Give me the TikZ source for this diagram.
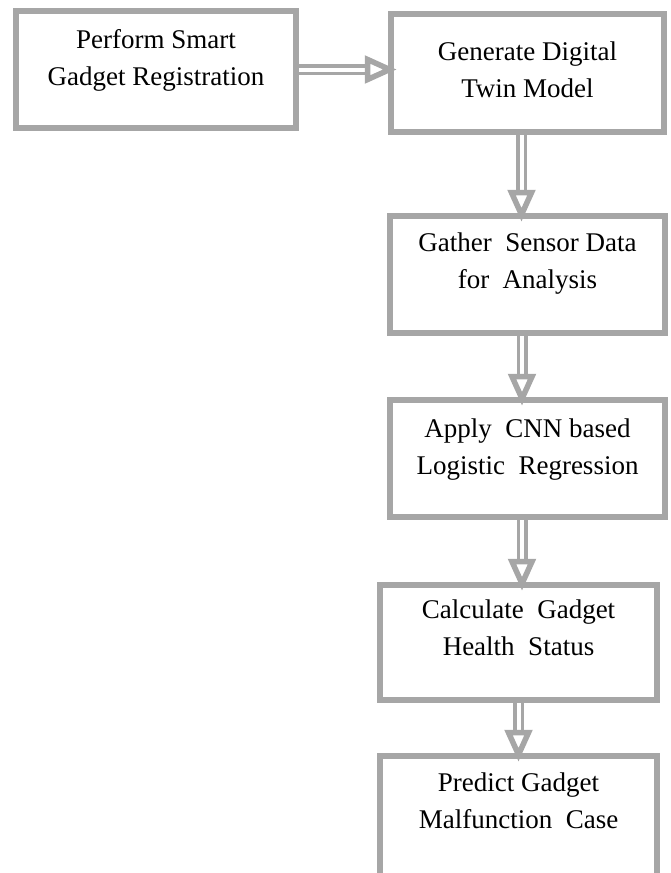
\documentclass[tikz,border=0pt]{standalone}
\usepackage{fontspec}
\setmainfont{Liberation Serif}
\usetikzlibrary{arrows.meta}
\colorlet{boxgray}{black!35}
\tikzset{
  stagebox/.style={draw=boxgray, line width=6.5pt, rectangle, inner sep=0pt},
  stagetext/.style={align=center, inner sep=0pt, anchor=base, font=\fontsize{27}{37}\selectfont},
  flow/.style={draw=boxgray, line width=3.5pt, double=white, double distance=4pt,
    -{Triangle[open, length=32pt, width=27pt, line width=5.5pt]}, shorten >=-9pt}
}
% #1 name, #2 #3 #4 #5 corners, #6 first baseline, #7 text
\newcommand{\stage}[7]{\node[stagebox, minimum width={#4-#2}, minimum height={#5-#3}] (#1) at ({(#2+#4)/2},{(#3+#5)/2}) {}; \node[stagetext] (#1t) at ({(#2+#4)/2},{#6+37}) {#7};}

\begin{document}
\begin{tikzpicture}[x=1pt, y=-1pt]
        \useasboundingbox (0,0) rectangle (671,873);
        \clip (0,0) rectangle (671,873);
        % top row
        \stage{reg}{16}{11}{296}{128}{48}{Perform Smart\\Gadget Registration}
        \stage{twin}{391}{14}{664}{132}{60}{Generate Digital\\Twin Model}
        % column
        \stage{gather}{390}{216}{665}{333}{251}{Gather\ \ Sensor Data\\for\ \ Analysis}
        \stage{cnn}{390}{400}{665}{517}{437}{Apply\ \ CNN based\\Logistic\ \ Regression}
        \stage{health}{380}{585}{657}{700}{618}{Calculate\ \ Gadget\\Health\ \ Status}
        \stage{fault}{380}{756}{657}{885}{791}{Predict Gadget\\Malfunction\ \ Case}
        % arrows
        \draw[flow] (reg.east) -- (reg.east -| twin.west);
        \draw[flow] ([xshift=-6pt]twin.south) -- ([xshift=-6pt]twin.south |- gather.north);
        \draw[flow] ([xshift=-5.5pt]gather.south) -- ([xshift=-5.5pt]gather.south |- cnn.north);
        \draw[flow] ([xshift=-5.5pt]cnn.south) -- ([xshift=-5.5pt]cnn.south |- health.north);
        \draw[flow] (health.south) -- (fault.north);
    \end{tikzpicture}
\end{document}
